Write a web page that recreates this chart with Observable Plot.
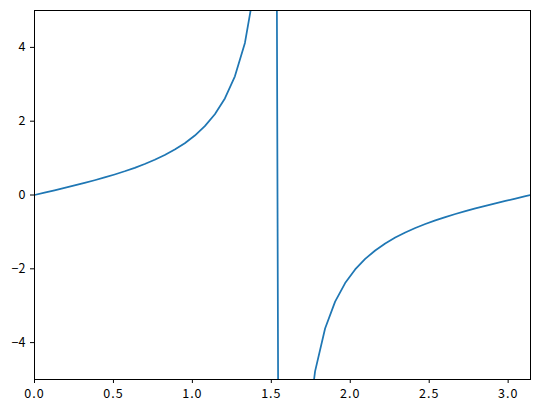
<!DOCTYPE html>
<html>
<head>
<meta charset="utf-8">
<script src="https://cdn.jsdelivr.net/npm/d3@7"></script>
<script src="https://cdn.jsdelivr.net/npm/@observablehq/plot@0.6"></script>
<style>
  html, body { margin: 0; padding: 0; background: #fff; }
  svg { display: block; }
  g[aria-label="x-axis tick label"] text { letter-spacing: 1px; }
</style>
</head>
<body>
<div id="chart"></div>
<script>
// samples of tan(x) (x from 0 to a bit past pi)
const xs = [0, 0.0635, 0.1269, 0.1904, 0.2539, 0.3173, 0.3808, 0.4443, 0.5077, 0.5712,
  0.6347, 0.6981, 0.7616, 0.8251, 0.8885, 0.9520, 1.0155, 1.0789, 1.1424, 1.2059,
  1.2693, 1.3328, 1.3963, 1.4597, 1.5232, 1.5867, 1.6501, 1.7136, 1.7771, 1.8405,
  1.9040, 1.9675, 2.0309, 2.0944, 2.1579, 2.2213, 2.2848, 2.3483, 2.4117, 2.4752,
  2.5387, 2.6021, 2.6656, 2.7291, 2.7925, 2.8560, 2.9195, 2.9829, 3.0464, 3.1099, 3.1733];
const ys = [0, 0.0636, 0.1276, 0.1927, 0.2595, 0.3281, 0.4003, 0.4760, 0.5564, 0.6427,
  0.7363, 0.8391, 0.9535, 1.0827, 1.2309, 1.4043, 1.6117, 1.8664, 2.1897, 2.6175,
  3.2160, 4.1221, 5.6713, 8.9666, 20.992, -63.02, -12.579, -6.9551, -4.7792, -3.6170,
  -2.8893, -2.3874, -2.0177, -1.7321, -1.5031, -1.3140, -1.1541, -1.0160, -0.8947, -0.7864,
  -0.6884, -0.5987, -0.5155, -0.4376, -0.3640, -0.2936, -0.2259, -0.1600, -0.0955, -0.0317, 0.0317];
const xTicks = [0, 0.5, 1.0, 1.5, 2.0, 2.5, 3.0];
const yTicks = [-4, -2, 0, 2, 4];
const xLimits = [0, 3.14159];
const yLimits = [-5, 5];

const data = xs.map((x, i) => ({x, y: ys[i]}));
const fmtY = d => (d < 0 ? "\u2212" : "") + Math.abs(d);

const chart = Plot.plot({
  width: 539,
  height: 412,
  marginLeft: 34,
  marginRight: 9,
  marginTop: 10,
  marginBottom: 33,
  style: {fontFamily: "'Noto Sans CJK JP', 'Liberation Sans', sans-serif", fontSize: "12.5px", color: "black", background: "white"},
  x: {domain: xLimits, label: null},
  y: {domain: yLimits, label: null},
  marks: [
    Plot.line(data, {x: "x", y: "y", stroke: "#1f77b4", strokeWidth: 1.75, strokeLinejoin: "round", clip: true}),
    Plot.frame({stroke: "black", strokeWidth: 1}),
    Plot.axisX({ticks: xTicks, tickFormat: d3.format(".1f"), tickSize: 4, tickPadding: 6, label: null}),
    Plot.axisY({ticks: yTicks, tickFormat: fmtY, tickSize: 4, tickPadding: 5, label: null})
  ]
});
document.getElementById("chart").appendChild(chart);
</script>
</body>
</html>
